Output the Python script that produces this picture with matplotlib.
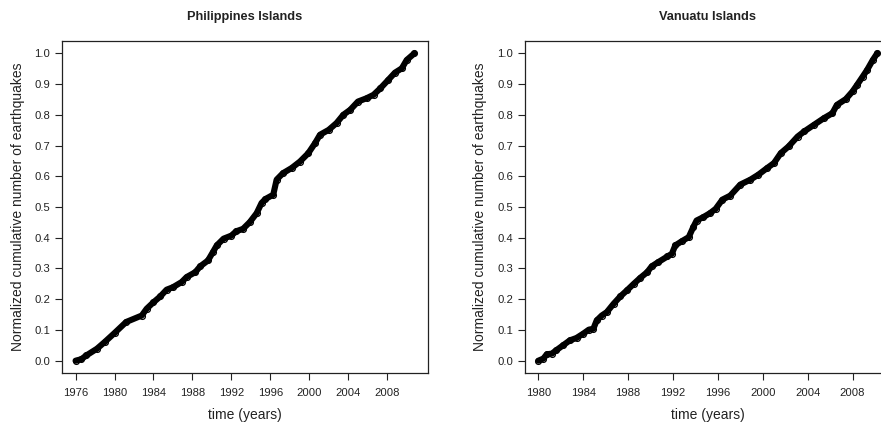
import matplotlib
matplotlib.use("Agg")
import matplotlib.pyplot as plt

plt.rcParams['font.family'] = ['Liberation Sans', 'DejaVu Sans']

# Philippines Islands: normalized cumulative count vs time
phil_years = [1976.0, 1976.6, 1977.1, 1978.2, 1979.0, 1980.0, 1981.2, 1982.8, 1983.3,
              1984.0, 1984.7, 1985.35, 1986.0, 1986.9, 1987.4, 1988.3, 1988.8, 1989.6,
              1990.1, 1990.5, 1991.2, 1992.0, 1992.5, 1993.2, 1993.9, 1994.6, 1995.1,
              1995.5, 1996.3, 1996.65, 1997.3, 1998.2, 1999.05, 1999.9, 2000.6, 2001.1,
              2002.0, 2002.8, 2003.5, 2004.2, 2005.0, 2005.9, 2006.6, 2007.3, 2008.1,
              2008.8, 2009.5, 2010.0, 2010.8]
phil_cum = [0.0, 0.005, 0.017, 0.039, 0.061, 0.09, 0.126, 0.147, 0.169,
            0.19, 0.209, 0.231, 0.239, 0.256, 0.272, 0.288, 0.307, 0.326,
            0.353, 0.375, 0.397, 0.407, 0.421, 0.429, 0.451, 0.48, 0.513,
            0.526, 0.54, 0.589, 0.61, 0.627, 0.648, 0.675, 0.708, 0.735,
            0.751, 0.773, 0.8, 0.816, 0.843, 0.854, 0.865, 0.886, 0.913,
            0.937, 0.951, 0.978, 1.0]

# Vanuatu Islands: normalized cumulative count vs time
van_years = [1980.0, 1980.45, 1980.75, 1981.2, 1981.6, 1982.2, 1982.8, 1983.4, 1984.0,
             1984.5, 1984.9, 1985.2, 1985.65, 1986.1, 1986.7, 1987.3, 1987.9, 1988.5,
             1989.1, 1989.7, 1990.1, 1990.7, 1991.5, 1991.9, 1992.2, 1992.8, 1993.4,
             1993.8, 1994.1, 1994.7, 1995.3, 1995.8, 1996.4, 1997.1, 1998.0, 1998.9,
             1999.6, 2000.4, 2001.0, 2001.6, 2002.3, 2003.1, 2003.7, 2004.55, 2005.45,
             2006.2, 2006.6, 2007.4, 2008.0, 2008.4, 2008.9, 2009.3, 2009.8, 2010.2]
van_cum = [0.0, 0.007, 0.021, 0.023, 0.034, 0.05, 0.066, 0.074, 0.088,
           0.101, 0.104, 0.131, 0.147, 0.158, 0.185, 0.209, 0.229, 0.25,
           0.27, 0.288, 0.307, 0.321, 0.339, 0.348, 0.375, 0.389, 0.402,
           0.434, 0.456, 0.467, 0.48, 0.494, 0.524, 0.537, 0.573, 0.589,
           0.605, 0.627, 0.643, 0.675, 0.697, 0.729, 0.746, 0.767, 0.789,
           0.805, 0.832, 0.851, 0.876, 0.897, 0.924, 0.946, 0.978, 1.0]

phil_xticks = [1976, 1980, 1984, 1988, 1992, 1996, 2000, 2004, 2008]
van_xticks = [1980, 1984, 1988, 1992, 1996, 2000, 2004, 2008]
yticks = [0.0, 0.1, 0.2, 0.3, 0.4, 0.5, 0.6, 0.7, 0.8, 0.9, 1.0]

W, H = 881, 428
fig = plt.figure(figsize=(W / 100, H / 100), dpi=100)


def panel(left_px, title, years, cum, xticks):
    ax = fig.add_axes([left_px / W, 1 - 373 / H, 366 / W, 332 / H])
    ax.plot(years, cum, color='black', lw=4.4, solid_capstyle='round',
            solid_joinstyle='round', zorder=2)
    ax.plot(years, cum, linestyle='none', marker='o', markersize=4.2,
            markerfacecolor='none', markeredgecolor='black',
            markeredgewidth=0.9, zorder=3)
    span = years[-1] - years[0]
    ax.set_xlim(years[0] - 0.04 * span, years[-1] + 0.04 * span)
    ax.set_ylim(-0.04, 1.04)
    ax.set_xticks(xticks)
    ax.set_xticklabels([str(t) for t in xticks])
    ax.set_yticks(yticks)
    ax.set_yticklabels([f"{t:.1f}" for t in yticks])
    ax.tick_params(axis='both', direction='out', length=5, width=0.8,
                   colors='#222222', labelsize=8.1)
    ax.tick_params(axis='x', pad=6)
    ax.tick_params(axis='y', pad=3.5)
    for s in ax.spines.values():
        s.set_linewidth(0.9)
        s.set_color('#222222')
    ax.set_xlabel('time (years)', fontsize=10, labelpad=7, color='#222222')
    ax.set_ylabel('Normalized cumulative number of earthquakes', fontsize=10,
                  labelpad=7, color='#222222')
    ax.set_title(title, fontsize=9.2, fontweight='bold', pad=15, color='#222222')
    return ax


panel(62, 'Philippines Islands', phil_years, phil_cum, phil_xticks)
panel(524.8, 'Vanuatu Islands', van_years, van_cum, van_xticks)

fig.savefig('out.png', dpi=100)
